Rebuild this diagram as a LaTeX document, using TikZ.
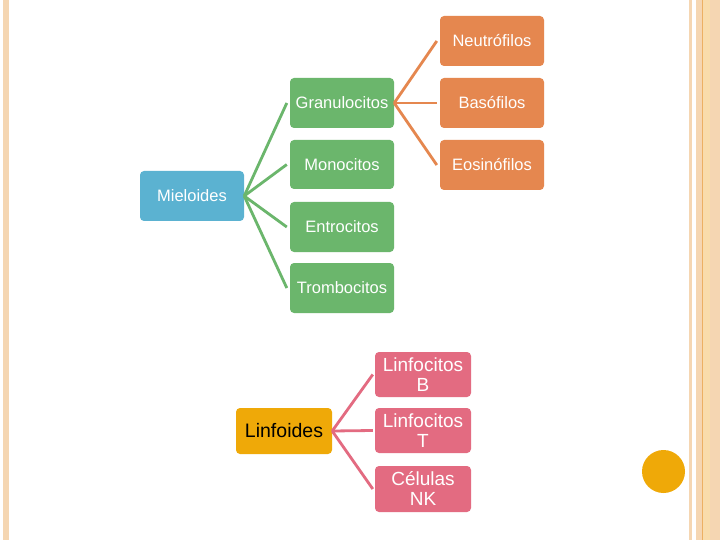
\documentclass[tikz,border=0pt]{standalone}
\usepackage{fontspec}
\setmainfont{Liberation Sans}
\definecolor{corange}{HTML}{E5874F}
\definecolor{cgreen}{HTML}{6BB66C}
\definecolor{cblue}{HTML}{5BB2D1}
\definecolor{cgold}{HTML}{EFA908}
\definecolor{cpink}{HTML}{E36B81}
\definecolor{stripe}{HTML}{F5D6B2}
\definecolor{stripeline}{HTML}{ECB063}
\definecolor{stripeband}{HTML}{F9DCAB}
\tikzset{
  box/.style={rounded corners=4pt, inner sep=0pt, align=center, text=white,
    minimum width=104pt, minimum height=50pt, font=\fontsize{16.5}{18}\selectfont},
  obox/.style={box, fill=corange},
  gbox/.style={box, fill=cgreen},
  bbox/.style={box, fill=cblue},
  ybox/.style={box, fill=cgold, text=black, minimum width=96pt, minimum height=46pt,
    font=\fontsize{19.5}{21}\selectfont},
  pbox/.style={box, fill=cpink, minimum width=96pt, minimum height=45pt,
    font=\fontsize{19}{20}\selectfont},
  gline/.style={draw=cgreen, line width=2.8pt},
  oline/.style={draw=corange, line width=2.8pt},
  pline/.style={draw=cpink, line width=2.8pt},
}
\begin{document}
\begin{tikzpicture}[x=1pt,y=-1pt]
\useasboundingbox (0,0) rectangle (720,540);
\fill[white] (0,0) rectangle (720,540);
% page decoration
\fill[stripe] (3,0) rectangle (9,540);
\fill[stripe] (688.5,0) rectangle (692,540);
\fill[stripe] (696,0) rectangle (720,540);
\fill[stripeband] (703,0) rectangle (710,540);
\fill[stripeline] (701.7,0) rectangle (702.9,540);
\fill[cgold] (663.5,471.5) circle (21.5);

% nodes
\node[obox] (neu) at (492,41) {Neutrófilos};
\node[obox] (bas) at (492,103) {Basófilos};
\node[obox] (eos) at (492,165) {Eosinófilos};
\node[gbox] (gra) at (342,103) {Granulocitos};
\node[gbox, minimum height=49pt] (mon) at (342,164.5) {Monocitos};
\node[gbox] (eri) at (342,227) {Entrocitos};
\node[gbox] (tro) at (342,288) {Trombocitos};
\node[bbox] (mie) at (192,196) {Mieloides};
\node[ybox] (lin) at (284,431) {Linfoides};
\node[pbox] (lb) at (423,374.5) {Linfocitos\\B};
\node[pbox] (lt) at (423,430.5) {Linfocitos\\T};
\node[pbox, minimum height=46pt] (nk) at (423,489) {Células\\NK};

% connectors
\foreach \t in {gra,mon,eri,tro}
  \draw[gline] (mie.east) -- ([xshift=-3pt]\t.west);
\foreach \t in {neu,bas,eos}
  \draw[oline] (gra.east) -- ([xshift=-3pt]\t.west);
\foreach \t in {lb,lt,nk}
  \draw[pline] (lin.east) -- ([xshift=-2pt]\t.west);
\end{tikzpicture}
\end{document}
